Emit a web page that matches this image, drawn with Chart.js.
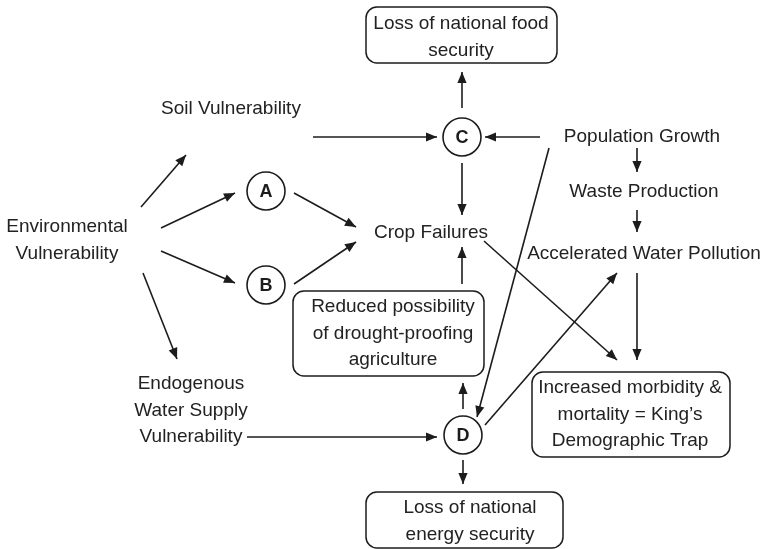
<!DOCTYPE html>
<html>
<head>
<meta charset="utf-8">
<script src="https://cdn.jsdelivr.net/npm/chart.js@4/dist/chart.umd.min.js"></script>
<style>
  html, body { margin: 0; padding: 0; background: #ffffff; }
  #wrap { width: 764px; height: 549px; }
</style>
</head>
<body>
<div id="wrap"><canvas id="c" width="764" height="549"></canvas></div>
<script>
// ---- diagram data ----
// text labels (each entry may have several lines)
const textLines = [
  ["Loss of national food", "security"],
  ["Soil Vulnerability"],
  ["Environmental", "Vulnerability"],
  ["Crop Failures"],
  ["Population Growth"],
  ["Waste Production"],
  ["Accelerated Water Pollution"],
  ["Reduced possibility", "of drought-proofing", "agriculture"],
  ["Increased morbidity &", "mortality = King\u2019s", "Demographic Trap"],
  ["Endogenous", "Water Supply", "Vulnerability"],
  ["Loss of national", "energy security"]
];
const textX = [461, 231, 67, 431, 642, 644, 644, 393, 630, 191, 470];
const textY = [23, 108, 226, 232, 136, 191, 253, 306, 387, 383, 507];

// rounded boxes
const boxLeft   = [366, 293, 532, 366];
const boxTop    = [7, 291, 372, 492];
const boxRight  = [557, 484, 730, 563];
const boxBottom = [63, 376, 457, 548];

// circled nodes
const circleLabels = ["A", "B", "C", "D"];
const circleX = [266, 266, 462, 463];
const circleY = [191, 285, 137, 435];

// arrows (tip at the "to" end)
const fromX = [141, 161, 161, 143, 313, 540, 462, 462, 294, 294, 462, 484, 549, 485, 637, 637, 637, 463, 247, 463];
const fromY = [207, 228, 251, 273, 137, 137, 108, 163, 193, 284, 284, 241, 148, 425, 148, 210, 273, 409, 437, 460];
const toX   = [186, 235, 235, 177, 437, 485, 462, 462, 356, 356, 462, 617, 477, 617, 637, 637, 637, 463, 437, 463];
const toY   = [155, 193, 283, 359, 137, 137, 72, 215, 227, 242, 247, 360, 417, 273, 172, 232, 360, 383, 437, 484];

// ---- build chart ----
const INK = "#1c1c1c";
const FONT = "\"Liberation Sans\", Arial, Helvetica, sans-serif";

const datasets = [];
for (let i = 0; i < fromX.length; i++) {
  datasets.push({
    type: "line",
    data: [{ x: fromX[i], y: fromY[i] }, { x: toX[i], y: toY[i] }],
    borderColor: INK,
    borderWidth: 1.6,
    pointRadius: 0,
    fill: false,
    tension: 0,
    clip: false
  });
}
datasets.push({
  type: "scatter",
  data: circleX.map((x, i) => ({ x: x, y: circleY[i] })),
  pointStyle: "circle",
  pointRadius: 19,
  backgroundColor: "#ffffff",
  borderColor: INK,
  borderWidth: 1.6,
  clip: false
});

function roundRect(ctx, x1, y1, x2, y2, r) {
  ctx.beginPath();
  ctx.moveTo(x1 + r, y1);
  ctx.lineTo(x2 - r, y1);
  ctx.arcTo(x2, y1, x2, y1 + r, r);
  ctx.lineTo(x2, y2 - r);
  ctx.arcTo(x2, y2, x2 - r, y2, r);
  ctx.lineTo(x1 + r, y2);
  ctx.arcTo(x1, y2, x1, y2 - r, r);
  ctx.lineTo(x1, y1 + r);
  ctx.arcTo(x1, y1, x1 + r, y1, r);
  ctx.closePath();
}

const diagramPlugin = {
  id: "diagram",
  beforeDatasetsDraw(chart) {
    const ctx = chart.ctx, sx = chart.scales.x, sy = chart.scales.y;
    ctx.save();
    ctx.strokeStyle = INK;
    ctx.lineWidth = 1.5;
    for (let i = 0; i < boxLeft.length; i++) {
      const x1 = sx.getPixelForValue(boxLeft[i]);
      const x2 = sx.getPixelForValue(boxRight[i]);
      const y1 = sy.getPixelForValue(boxTop[i]);
      const y2 = sy.getPixelForValue(boxBottom[i]);
      roundRect(ctx, x1, y1, x2, y2, 11);
      ctx.stroke();
    }
    ctx.restore();
  },
  afterDatasetsDraw(chart) {
    const ctx = chart.ctx, sx = chart.scales.x, sy = chart.scales.y;
    ctx.save();
    // arrow heads
    ctx.fillStyle = INK;
    for (let i = 0; i < fromX.length; i++) {
      const ax = sx.getPixelForValue(fromX[i]), ay = sy.getPixelForValue(fromY[i]);
      const bx = sx.getPixelForValue(toX[i]), by = sy.getPixelForValue(toY[i]);
      const ang = Math.atan2(by - ay, bx - ax);
      const L = 11, W = 4.6;
      ctx.beginPath();
      ctx.moveTo(bx, by);
      ctx.lineTo(bx - L * Math.cos(ang) + W * Math.sin(ang), by - L * Math.sin(ang) - W * Math.cos(ang));
      ctx.lineTo(bx - L * Math.cos(ang) - W * Math.sin(ang), by - L * Math.sin(ang) + W * Math.cos(ang));
      ctx.closePath();
      ctx.fill();
    }
    // circle letters
    ctx.fillStyle = INK;
    ctx.textAlign = "center";
    ctx.textBaseline = "middle";
    ctx.font = "bold 18px " + FONT;
    for (let i = 0; i < circleLabels.length; i++) {
      ctx.fillText(circleLabels[i], sx.getPixelForValue(circleX[i]), sy.getPixelForValue(circleY[i]) + 1);
    }
    // text labels
    ctx.fillStyle = "#222222";
    ctx.font = "19px " + FONT;
    for (let i = 0; i < textLines.length; i++) {
      const lines = textLines[i];
      for (let j = 0; j < lines.length; j++) {
        const yv = textY[i] + j * 26.5;
        ctx.fillText(lines[j], sx.getPixelForValue(textX[i]), sy.getPixelForValue(yv) + 1);
      }
    }
    ctx.restore();
  }
};

new Chart(document.getElementById("c"), {
  type: "scatter",
  data: { datasets: datasets },
  options: {
    responsive: false,
    animation: false,
    events: [],
    layout: { padding: 0, autoPadding: false },
    scales: {
      x: { type: "linear", min: 0, max: 764, display: false },
      y: { type: "linear", min: 0, max: 549, reverse: true, display: false }
    },
    plugins: { legend: { display: false }, tooltip: { enabled: false } }
  },
  plugins: [diagramPlugin]
});
</script>
</body>
</html>
